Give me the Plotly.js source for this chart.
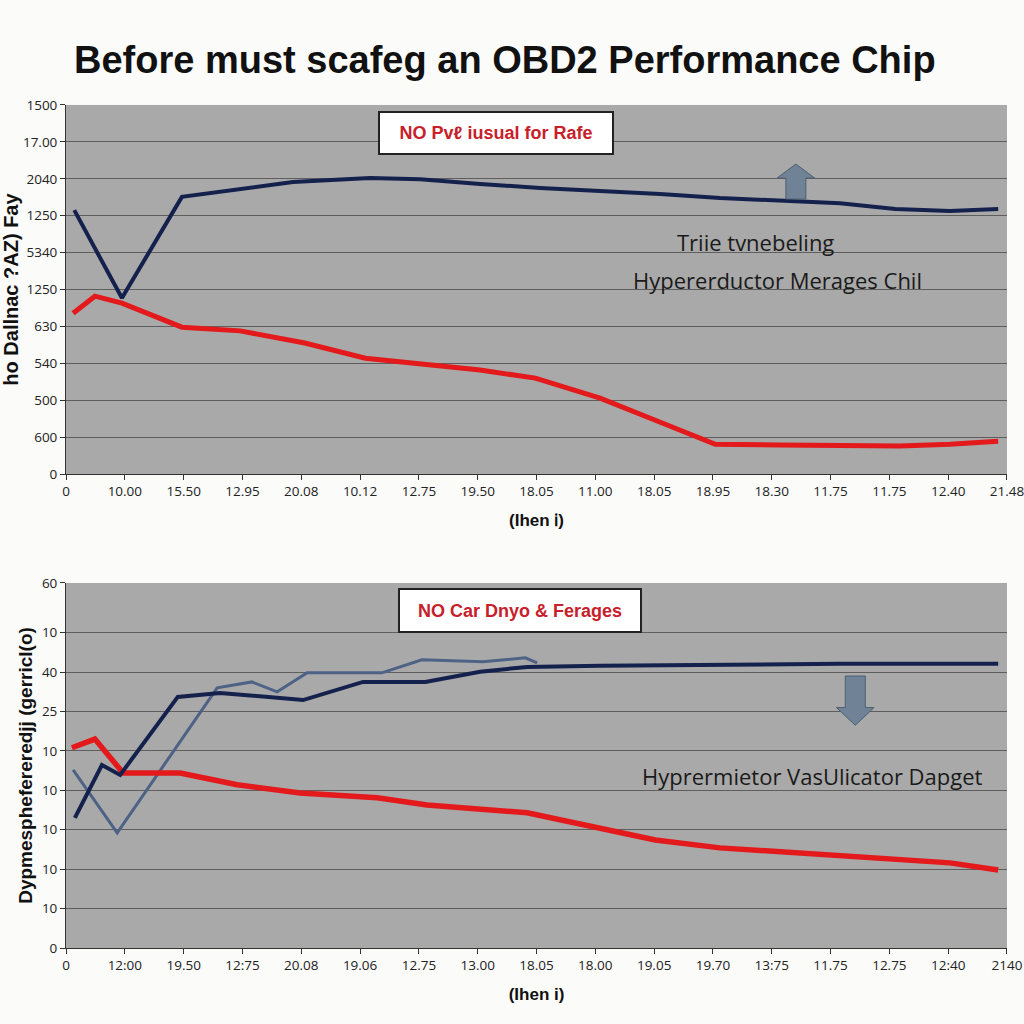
<!DOCTYPE html>
<html>
<head>
<meta charset="utf-8">
<script src="https://cdn.plot.ly/plotly-3.0.1.min.js"></script>
<style>
  html, body { margin: 0; padding: 0; background: #fbfbfa; }
  #chart { width: 1024px; height: 1024px; }
</style>
</head>
<body>
<div id="chart"></div>
<script>
// tick labels as printed on the chart
const topXLabels = ["0", "10.00", "15.50", "12.95", "20.08", "10.12", "12.75", "19.50", "18.05",
  "11.00", "18.05", "18.95", "18.30", "11.75", "11.75", "12.40", "21.48"];
const bottomXLabels = ["0", "12:00", "19.50", "12:75", "20.08", "19.06", "12.75", "13.00", "18.05",
  "18.00", "19.05", "19.70", "13:75", "11.75", "12.75", "12:40", "2140"];
const topYLabels = ["0", "600", "500", "540", "630", "1250", "5340", "1250", "2040", "17.00", "1500"];
const topYVals = [0, 1, 2, 3, 4, 5, 6, 7, 8, 9, 10];
const bottomYLabels = ["0", "10", "10", "10", "10", "10", "25", "40", "10", "60"];
const bottomYVals = [0, 1, 2, 3, 4, 5, 6, 7, 8, 9.26];

// top panel series
const topNavyX = [0.14, 0.95, 1.97, 3.86, 5.17, 6.02, 7.04, 8.06, 9.08, 10.1, 11.12, 12.14, 13.16, 14.1, 15.03, 15.85];
const topNavyY = [7.15, 4.77, 7.51, 7.91, 8.02, 7.99, 7.86, 7.75, 7.67, 7.59, 7.48, 7.40, 7.34, 7.18, 7.13, 7.18];
const topRedX = [0.12, 0.49, 0.95, 1.97, 2.96, 4.06, 5.09, 6.02, 7.04, 7.98, 9.08, 10.02, 11.04, 12.14, 13.16, 14.18, 15.03, 15.85];
const topRedY = [4.36, 4.82, 4.63, 3.98, 3.88, 3.55, 3.14, 2.98, 2.82, 2.60, 2.06, 1.46, 0.81, 0.79, 0.76, 0.76, 0.81, 0.89];

// bottom panel series
const botNavyX = [0.15, 0.61, 0.92, 1.90, 2.62, 4.03, 5.05, 6.11, 7.04, 7.84, 9.08, 11.12, 13.16, 15.85];
const botNavyY = [3.30, 4.64, 4.39, 6.37, 6.47, 6.29, 6.75, 6.75, 7.01, 7.13, 7.16, 7.18, 7.21, 7.21];
const botSlateX = [0.12, 0.87, 2.57, 3.16, 3.59, 4.10, 5.37, 6.05, 7.09, 7.81, 8.01];
const botSlateY = [4.52, 2.92, 6.60, 6.75, 6.50, 6.98, 6.98, 7.31, 7.26, 7.36, 7.23];
const botRedX = [0.10, 0.49, 0.97, 1.94, 2.91, 3.98, 5.29, 6.14, 7.84, 9.08, 10.02, 11.12, 12.14, 13.16, 14.18, 15.03, 15.85];
const botRedY = [5.08, 5.30, 4.44, 4.44, 4.14, 3.93, 3.81, 3.63, 3.43, 3.05, 2.74, 2.54, 2.44, 2.31, 2.23, 2.16, 1.98];

const navy = "#15214d";
const red = "#e3191b";
const slate = "#4e6286";
const arrowGrey = "#6f8296";

const tickIdx = topXLabels.map((_, i) => i);

const data = [
  { x: topNavyX, y: topNavyY, xaxis: "x", yaxis: "y", type: "scatter", mode: "lines",
    line: { color: navy, width: 4 }, hoverinfo: "skip" },
  { x: topRedX, y: topRedY, xaxis: "x", yaxis: "y", type: "scatter", mode: "lines",
    line: { color: red, width: 5 }, hoverinfo: "skip" },
  { x: botSlateX, y: botSlateY, xaxis: "x2", yaxis: "y2", type: "scatter", mode: "lines",
    line: { color: slate, width: 3 }, hoverinfo: "skip" },
  { x: botRedX, y: botRedY, xaxis: "x2", yaxis: "y2", type: "scatter", mode: "lines",
    line: { color: red, width: 5.5 }, hoverinfo: "skip" },
  { x: botNavyX, y: botNavyY, xaxis: "x2", yaxis: "y2", type: "scatter", mode: "lines",
    line: { color: navy, width: 4 }, hoverinfo: "skip" },
];

const tickFont = { family: "Open Sans, sans-serif", size: 13.5, color: "#222" };
const boldFace = "Liberation Sans, Arial, sans-serif";

const xCommon = {
  range: [0, 16],
  tickvals: tickIdx,
  showgrid: false,
  zeroline: false,
  showline: true,
  linecolor: "#333",
  ticks: "outside",
  ticklen: 5,
  tickcolor: "#333",
  tickfont: tickFont,
  ticklabeloverflow: "allow",
  fixedrange: true,
};
const yCommon = {
  showgrid: true,
  gridcolor: "#5e5e5e",
  gridwidth: 1,
  zeroline: false,
  showline: true,
  linecolor: "#333",
  ticks: "outside",
  ticklen: 5,
  tickcolor: "#333",
  tickfont: tickFont,
  fixedrange: true,
};

// block arrow outline, built around a centre point in data units
function blockArrow(xref, yref, cx, yBase, yTip, halfW, headW, headH) {
  const dir = yTip > yBase ? 1 : -1;
  const yNeck = yTip - dir * headH;
  return {
    type: "path", xref, yref, layer: "above",
    path: `M ${cx - halfW} ${yBase} L ${cx - halfW} ${yNeck} L ${cx - headW} ${yNeck} L ${cx} ${yTip} ` +
      `L ${cx + headW} ${yNeck} L ${cx + halfW} ${yNeck} L ${cx + halfW} ${yBase} Z`,
    fillcolor: arrowGrey, line: { color: "#4f5f70", width: 1 },
  };
}

const layout = {
  width: 1024,
  height: 1024,
  margin: { l: 0, r: 0, t: 0, b: 0 },
  paper_bgcolor: "#fbfbfa",
  plot_bgcolor: "#a9a9a9",
  showlegend: false,
  title: {
    text: "Before must scafeg an OBD2 Performance Chip",
    font: { family: boldFace, size: 38, color: "#111", weight: 700 },
    x: 0.493, xanchor: "center", y: 0.942, yanchor: "middle",
  },
  xaxis: Object.assign({}, xCommon, {
    domain: [0.0645, 0.9834], anchor: "y", ticktext: topXLabels,
    title: { text: "(Ihen ℹ)", standoff: 14, font: { family: boldFace, size: 17, color: "#111", weight: 700 } },
  }),
  yaxis: Object.assign({}, yCommon, {
    domain: [0.537, 0.8975], anchor: "x", range: [0, 10],
    tickvals: topYVals, ticktext: topYLabels,
    title: { text: "ho Dallnac ?AZ) Fay", standoff: 2, font: { family: boldFace, size: 20, color: "#111", weight: 700 } },
  }),
  xaxis2: Object.assign({}, xCommon, {
    domain: [0.0645, 0.9834], anchor: "y2", ticktext: bottomXLabels,
    title: { text: "(Ihen i)", standoff: 14, font: { family: boldFace, size: 17, color: "#111", weight: 700 } },
  }),
  yaxis2: Object.assign({}, yCommon, {
    domain: [0.0742, 0.4307], anchor: "x2", range: [0, 9.26],
    tickvals: bottomYVals, ticktext: bottomYLabels,
    title: { text: "Dypmesphefereredjj (gerricl(o)", standoff: 4, font: { family: boldFace, size: 19, color: "#111", weight: 700 } },
  }),
  shapes: [
    blockArrow("x", "y", 12.41, 7.45, 8.4, 0.17, 0.32, 0.38),
    blockArrow("x2", "y2", 13.42, 6.9, 5.65, 0.17, 0.32, 0.45),
  ],
  annotations: [
    {
      xref: "x", yref: "y", x: 7.31, y: 9.25, text: "NO Pvℓ iusual for Rafe", showarrow: false,
      font: { family: boldFace, size: 18, color: "#c8202a", weight: 700 },
      bgcolor: "#ffffff", bordercolor: "#222", borderwidth: 2, borderpad: 8,
      width: 216, height: 24,
    },
    {
      xref: "x2", yref: "y2", x: 7.72, y: 8.55, text: "NO Car Dnyo & Ferages", showarrow: false,
      font: { family: boldFace, size: 18, color: "#c8202a", weight: 700 },
      bgcolor: "#ffffff", bordercolor: "#222", borderwidth: 2, borderpad: 8,
      width: 224, height: 25,
    },
    {
      xref: "x", yref: "y", x: 11.72, y: 6.28, text: "Triie tvnebeling", showarrow: false,
      font: { family: "Open Sans, sans-serif", size: 22, color: "#1a1a1a" },
    },
    {
      xref: "x", yref: "y", x: 12.1, y: 5.26, text: "Hypererductor Merages Chil", showarrow: false,
      font: { family: "Open Sans, sans-serif", size: 22, color: "#1a1a1a" },
    },
    {
      xref: "x2", yref: "y2", x: 12.69, y: 4.37, text: "Hyprermietor VasUlicator Dapget", showarrow: false,
      font: { family: "Open Sans, sans-serif", size: 22, color: "#1a1a1a" },
    },
  ],
};

const config = { responsive: false, displayModeBar: false, staticPlot: true };

Plotly.newPlot("chart", data, layout, config);
</script>
</body>
</html>
